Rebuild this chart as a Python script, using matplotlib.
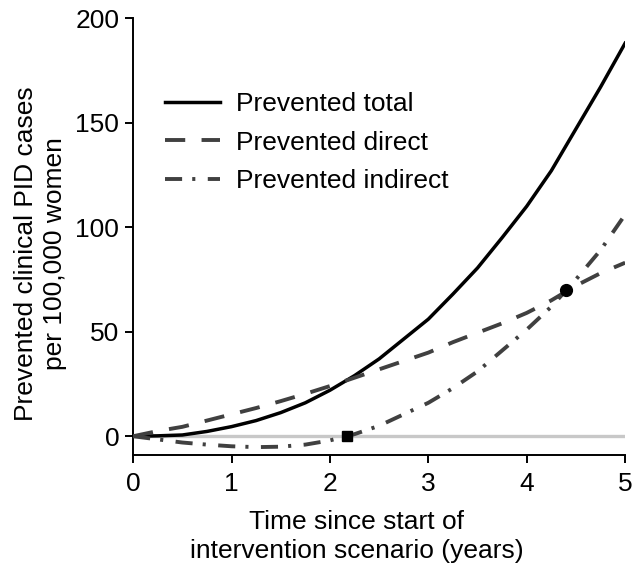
import matplotlib.pyplot as plt

plt.rcParams['font.family'] = ['Liberation Sans', 'DejaVu Sans']

years = [0, 0.25, 0.5, 0.75, 1, 1.25, 1.5, 1.75, 2, 2.25, 2.5,
         2.75, 3, 3.25, 3.5, 3.75, 4, 4.25, 4.5, 4.75, 5]
total = [0, 0.2, 0.6, 2.3, 4.6, 7.5, 11.3, 16, 22, 29, 37,
         46.5, 56, 68, 80.5, 95, 110, 127, 147, 167, 188]
direct = [0, 2.5, 4.5, 7.5, 10.5, 13.5, 16.8, 20.3, 24, 28, 32,
          36, 40, 45, 49.5, 54, 59, 65, 72, 78, 83]
indirect = [0, -1.5, -3, -4, -4.8, -5.2, -5, -4, -2, 1, 5,
            10.5, 16, 23, 31, 41, 51, 62, 75, 89, 106]

cross_zero = (2.17, 0)      # indirect becomes positive
cross_direct = (4.4, 70)    # indirect overtakes direct

fs = 19

fig = plt.figure(figsize=(6.34, 5.66), dpi=100)
ax = fig.add_axes([0.21, 0.196, 0.776, 0.772])

ax.axhline(0, color='#c8c8c8', lw=2.4, zorder=1)
ax.plot(years, total, color='black', lw=2.5, label='Prevented total', zorder=3)
ax.plot(years, direct, color='#404040', lw=2.8, dashes=(5.2, 4.2),
        label='Prevented direct', zorder=3)
ax.plot(years, indirect, color='#404040', lw=2.8, dashes=(4.4, 2.6, 0.8, 3.2),
        label='Prevented indirect', zorder=3)
ax.plot(*cross_zero, 's', color='black', ms=7.5, zorder=4)
ax.plot(*cross_direct, 'o', color='black', ms=8.5, zorder=4)

ax.set_xlim(0, 5)
ax.set_ylim(-9, 200)
ax.set_xticks([0, 1, 2, 3, 4, 5])
ax.set_yticks([0, 50, 100, 150, 200])
ax.spines['top'].set_visible(False)
ax.spines['right'].set_visible(False)
ax.spines['left'].set_linewidth(1.4)
ax.spines['bottom'].set_linewidth(1.4)
ax.tick_params(direction='out', length=6, width=1.4, labelsize=fs)
ax.tick_params(axis='x', pad=6.5)
ax.tick_params(axis='y', pad=4)

ax.set_xlabel('Time since start of\nintervention scenario (years)', fontsize=fs,
              linespacing=1.26)
ax.set_ylabel('Prevented clinical PID cases\nper 100,000 women', fontsize=fs,
              linespacing=1.3)
ax.xaxis.set_label_coords(0.455, -0.126)
ax.yaxis.set_label_coords(-0.134, 0.462)

ax.legend(loc='upper left', bbox_to_anchor=(165 / 634, 1 - 92 / 566),
          bbox_transform=fig.transFigure, frameon=False, fontsize=fs,
          handlelength=2.1, handletextpad=0.6, labelspacing=0.55,
          borderpad=0, borderaxespad=0)

fig.savefig('out.png', dpi=100)
